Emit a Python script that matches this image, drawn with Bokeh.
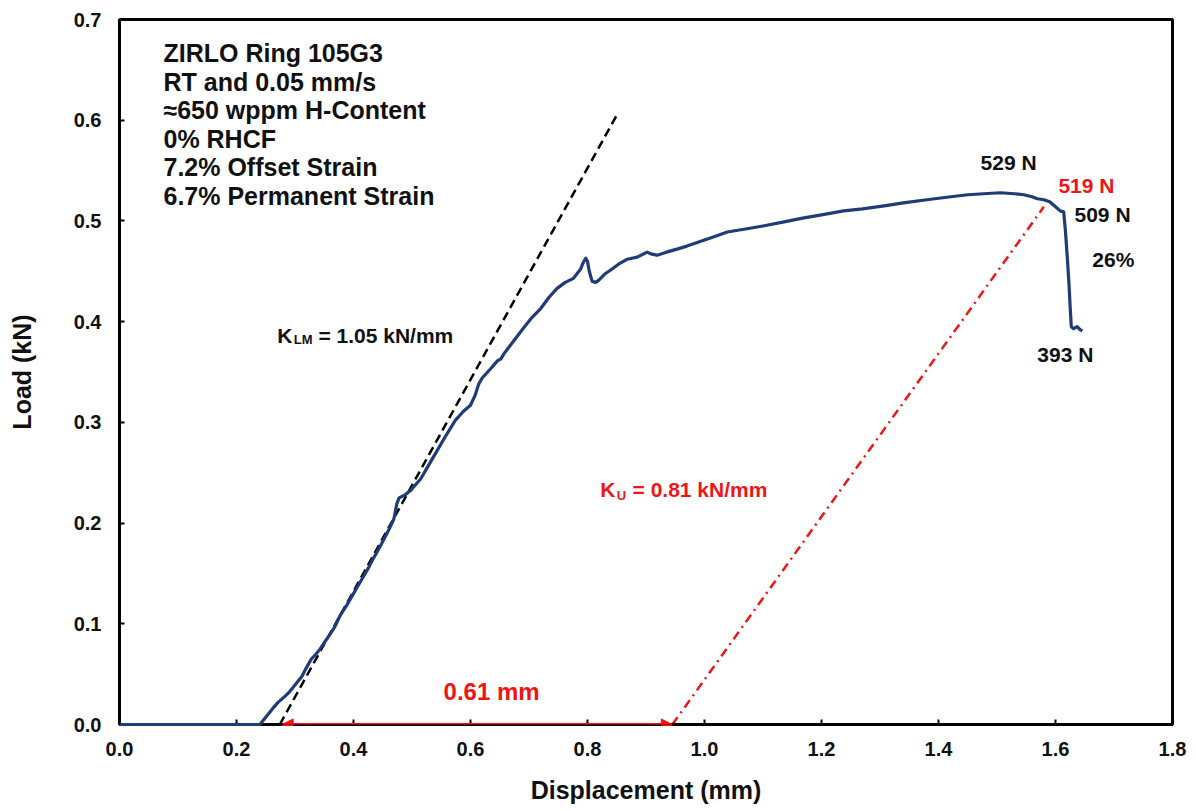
from bokeh.plotting import figure
from bokeh.models import Range1d, Arrow, NormalHead, FixedTicker, NumeralTickFormatter
from bokeh.embed import file_html
from bokeh.resources import INLINE
from bokeh.core.properties import value

# ---------------- data ----------------
disp_mm = [0.000, 0.240, 0.251, 0.262, 0.271, 0.281, 0.290, 0.301, 0.312, 0.320, 0.328, 0.336,
           0.343, 0.351, 0.358, 0.368, 0.377, 0.388, 0.397, 0.406, 0.416, 0.425, 0.434, 0.443,
           0.452, 0.461, 0.469, 0.474, 0.478, 0.488, 0.497, 0.506, 0.515, 0.528, 0.540, 0.556,
           0.574, 0.588, 0.600, 0.608, 0.614, 0.620, 0.634, 0.646, 0.652, 0.657, 0.674, 0.691,
           0.705, 0.720, 0.734, 0.748, 0.762, 0.776, 0.788, 0.793, 0.797, 0.800, 0.803, 0.808,
           0.814, 0.819, 0.829, 0.839, 0.853, 0.868, 0.885, 0.902, 0.910, 0.919, 0.935, 0.953,
           0.970, 0.990, 1.015, 1.039, 1.070, 1.100, 1.136, 1.170, 1.200, 1.238, 1.270, 1.307,
           1.340, 1.380, 1.421, 1.450, 1.477, 1.506, 1.530, 1.546, 1.560, 1.569, 1.580, 1.590,
           1.600, 1.608, 1.614, 1.617, 1.620, 1.623, 1.625, 1.627, 1.631, 1.637, 1.642, 1.646]
load_kN = [0.000, 0.000, 0.008, 0.016, 0.022, 0.027, 0.032, 0.040, 0.048, 0.057, 0.065, 0.070,
           0.075, 0.082, 0.088, 0.097, 0.108, 0.118, 0.127, 0.136, 0.146, 0.155, 0.165, 0.174,
           0.184, 0.194, 0.204, 0.219, 0.225, 0.228, 0.232, 0.238, 0.244, 0.257, 0.269, 0.285,
           0.302, 0.311, 0.317, 0.327, 0.338, 0.344, 0.353, 0.361, 0.363, 0.368, 0.381, 0.394,
           0.404, 0.413, 0.424, 0.433, 0.439, 0.443, 0.452, 0.459, 0.463, 0.460, 0.450, 0.440,
           0.439, 0.441, 0.447, 0.451, 0.457, 0.462, 0.464, 0.469, 0.467, 0.466, 0.469, 0.472,
           0.475, 0.479, 0.484, 0.489, 0.492, 0.495, 0.499, 0.503, 0.506, 0.510, 0.512, 0.515,
           0.518, 0.521, 0.524, 0.526, 0.527, 0.528, 0.527, 0.526, 0.524, 0.522, 0.521, 0.519,
           0.514, 0.510, 0.509, 0.490, 0.465, 0.438, 0.415, 0.395, 0.393, 0.395, 0.392, 0.391]

# loading-modulus fit line (K_LM) and unloading line (K_U)
klm_x = [0.274, 0.850]
klm_y = [0.000, 0.605]
ku_x = [0.945, 1.580]
ku_y = [0.000, 0.514]
offset_start_mm = 0.278
offset_end_mm = 0.945

x_ticks = [0.0, 0.2, 0.4, 0.6, 0.8, 1.0, 1.2, 1.4, 1.6, 1.8]
y_ticks = [0.0, 0.1, 0.2, 0.3, 0.4, 0.5, 0.6, 0.7]

info_lines = ["ZIRLO Ring 105G3", "RT and 0.05 mm/s", "\u2248650 wppm H-Content",
              "0% RHCF", "7.2% Offset Strain", "6.7% Permanent Strain"]
load_labels = ["529 N", "509 N", "26%", "393 N"]
red_load_label = "519 N"
offset_label = "0.61 mm"
klm_label = "= 1.05 kN/mm"
ku_label = "= 0.81 kN/mm"

# ---------------- styles ----------------
FONT = value("Liberation Sans")
BLACK = "#111111"
RED = "#f01414"
BLUE = "#1f3c78"
DY = 0.008  # baseline correction

p = figure(width=1196, height=811, x_range=Range1d(0, 1.8), y_range=Range1d(0, 0.7),
           output_backend="svg", toolbar_location=None,
           min_border_left=119, min_border_right=24, min_border_top=19, min_border_bottom=87)
p.grid.visible = False
p.outline_line_color = "black"
p.outline_line_width = 3
p.background_fill_color = "white"
p.border_fill_color = "white"

p.xaxis.ticker = FixedTicker(ticks=x_ticks)
p.yaxis.ticker = FixedTicker(ticks=y_ticks)
for ax in (p.xaxis[0], p.yaxis[0]):
    ax.formatter = NumeralTickFormatter(format="0.0")
    ax.axis_line_width = 3
    ax.axis_line_color = "black"
    ax.major_tick_in = 5
    ax.major_tick_out = 0
    ax.major_tick_line_width = 2
    ax.major_tick_line_color = "black"
    ax.minor_tick_line_color = None
    ax.major_label_text_font = "Liberation Sans"
    ax.major_label_text_font_style = "bold"
    ax.major_label_text_font_size = "20px"
    ax.major_label_text_color = BLACK
    ax.axis_label_text_font = "Liberation Sans"
    ax.axis_label_text_font_style = "bold"
    ax.axis_label_text_font_size = "25px"
    ax.axis_label_text_color = BLACK
p.xaxis.axis_label = "Displacement (mm)"
p.yaxis.axis_label = "Load (kN)"
p.xaxis.major_label_standoff = 17
p.yaxis.major_label_standoff = 18
p.xaxis.axis_label_standoff = 17
p.yaxis.axis_label_standoff = 35

# fit lines
p.line(klm_x, klm_y, line_color="black", line_width=2.5, line_dash="9 5")
p.line(ku_x, ku_y, line_color=RED, line_width=2.5, line_dash="9 5 2 5")

# measured curve
r = p.line(disp_mm, load_kN, line_color=BLUE, line_width=3.2, line_join="round")
r.level = "overlay"

# offset arrow
p.add_layout(Arrow(x_start=offset_end_mm, y_start=0, x_end=offset_start_mm, y_end=0,
                   line_color=RED, line_width=3,
                   start=NormalHead(size=11, fill_color=RED, line_color=RED),
                   end=NormalHead(size=11, fill_color=RED, line_color=RED)))

# info block
line_step = 0.0283
p.text(x=[0.0752] * len(info_lines),
       y=[0.6583 + DY - i * line_step for i in range(len(info_lines))],
       text=info_lines, text_font=FONT, text_font_style="bold", text_font_size="25px",
       text_color=BLACK, text_baseline="alphabetic", text_align="left")

# load labels
p.text(x=[1.472, 1.6325, 1.663, 1.569],
       y=[0.550 + DY, 0.4985 + DY, 0.4538 + DY, 0.3595 + DY], text=load_labels,
       text_font=FONT, text_font_style="bold", text_font_size="21px", text_color=BLACK,
       text_baseline="alphabetic", text_align="left")
p.text(x=[1.605], y=[0.5273 + DY], text=[red_load_label], text_font=FONT, text_font_style="bold",
       text_font_size="21px", text_color=RED, text_baseline="alphabetic", text_align="left")

# 0.61 mm
p.text(x=[0.636], y=[0.025 + DY], text=[offset_label], text_font=FONT, text_font_style="bold",
       text_font_size="24px", text_color=RED, text_baseline="alphabetic", text_align="center")

# K_LM
p.text(x=[0.2696], y=[0.378 + DY], text=["K"], text_font=FONT, text_font_style="bold",
       text_font_size="21px", text_color=BLACK, text_baseline="alphabetic")
p.text(x=[0.298], y=[0.3745 + DY], text=["LM"], text_font=FONT, text_font_style="bold",
       text_font_size="13px", text_color=BLACK, text_baseline="alphabetic")
p.text(x=[0.340], y=[0.378 + DY], text=[klm_label], text_font=FONT, text_font_style="bold",
       text_font_size="21px", text_color=BLACK, text_baseline="alphabetic")

# K_U
p.text(x=[0.822], y=[0.2254 + DY], text=["K"], text_font=FONT, text_font_style="bold",
       text_font_size="21px", text_color=RED, text_baseline="alphabetic")
p.text(x=[0.850], y=[0.2194 + DY], text=["U"], text_font=FONT, text_font_style="bold",
       text_font_size="13px", text_color=RED, text_baseline="alphabetic")
p.text(x=[0.877], y=[0.2254 + DY], text=[ku_label], text_font=FONT, text_font_style="bold",
       text_font_size="21px", text_color=RED, text_baseline="alphabetic")

open("out.html", "w").write(file_html(p, INLINE))
